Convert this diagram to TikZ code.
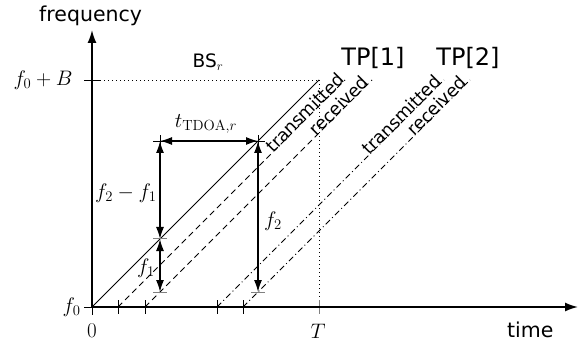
\RequirePackage{fix-cm}
\documentclass[tikz,border=0pt]{standalone}
\usepackage{fontspec}
\setsansfont{DejaVu Sans}
\usetikzlibrary{arrows.meta}
\begin{document}
\begin{tikzpicture}[x=1pt,y=-1pt,
  axis/.style={line width=1.6pt,-{Latex[length=13pt,width=9pt]}},
  meas/.style={line width=1.5pt,{Latex[length=12pt,width=8pt]}-{Latex[length=12pt,width=8pt]}},
  txline/.style={line width=0.8pt},
  dashline/.style={line width=0.8pt,dash pattern=on 6pt off 4pt},
  dotdash/.style={line width=0.8pt,dash pattern=on 6pt off 3pt on 1pt off 3pt},
  guide/.style={line width=0.6pt,dash pattern=on 1pt off 3pt},
  tick/.style={line width=0.7pt},
  graytick/.style={line width=1pt,gray},
  mathlbl/.style={font=\fontsize{21}{25}\selectfont},
  biglbl/.style={font=\sffamily\fontsize{24}{28}\selectfont},
  axlbl/.style={font=\sffamily\fontsize{20.5}{24}\selectfont, inner sep=0pt},
  linelbl/.style={font=\sffamily\fontsize{17.5}{21}\selectfont, sloped, anchor=base, inner sep=0pt}]
\useasboundingbox (0,0) rectangle (583,347);
% coordinates
\coordinate (O) at (92,307);
\coordinate (ytop) at (92,30);
\coordinate (xend) at (578,307);
\coordinate (fB) at (92,80);
\coordinate (TB) at (319,80);
\coordinate (T) at (319,307);
\coordinate (s0) at (92,307);  \coordinate (s1) at (319,80);
\coordinate (a0) at (118,307); \coordinate (a1) at (345,80);
\coordinate (b0) at (145,307); \coordinate (b1) at (372,80);
\coordinate (c0) at (217,307); \coordinate (c1) at (444,80);
\coordinate (d0) at (243,307); \coordinate (d1) at (470,80);
\coordinate (P1) at (160,141);
\coordinate (P2) at (258,141);
\coordinate (Q1) at (160,239);
\coordinate (R1) at (160,292);
\coordinate (R2) at (258,292);
% guides
\draw[guide] (fB) -- (TB);
\draw[guide] (TB) -- (T);
% ticks
\draw[tick] ([xshift=-8pt]fB) -- ([xshift=8pt]fB);
\draw[tick] ([xshift=-8pt]O) -- (O) -- ([yshift=-8pt]O);
\foreach \c in {a0,b0,c0,d0}{\draw[tick] ([yshift=7pt]\c) -- ([yshift=-7pt]\c);}
\draw[tick,gray] ([yshift=7pt]T) -- ([yshift=-7pt]T);
% axes
\draw[axis] (O) -- (ytop);
\draw[axis] (O) -- (xend);
% chirps
\draw[txline] (s0) -- (s1);
\draw[dashline] (a0) -- (a1);
\draw[dashline] (b0) -- (b1);
\draw[dotdash] (c0) -- (c1);
\draw[dotdash] (d0) -- (d1);
% line labels
\path (a0) -- (a1) node[linelbl, pos=0.84, yshift=-1pt] {transmitted};
\path (b0) -- (b1) node[linelbl, pos=0.87, yshift=-1pt] {received};
\path (c0) -- (c1) node[linelbl, pos=0.83, yshift=-1pt] {transmitted};
\path (d0) -- (d1) node[linelbl, pos=0.87, yshift=-1pt] {received};
% measurement arrows
\draw[meas] (P1) -- (Q1);
\draw[meas] (Q1) -- (R1);
\draw[meas] (P2) -- (R2);
\draw[meas] (P1) -- (P2);
\foreach \c in {P1,P2}{
  \draw[tick] ([xshift=-7pt]\c) -- ([xshift=7pt]\c);
  \draw[tick] ([yshift=-6pt]\c) -- ([yshift=6pt]\c);}
\foreach \c in {Q1,R1,R2}{\draw[graytick] ([xshift=-7pt]\c) -- ([xshift=7pt]\c);}
% labels
\node[mathlbl, anchor=east] (lf0) at (84,307) {$f_0$};
\node[mathlbl, anchor=east] (lfB) at (76,80) {$f_0+B$};
\node[mathlbl] (l0) at (92,331) {$0$};
\node[mathlbl] (lT) at (318,331) {$T$};
\node[mathlbl] (ltd) at (206,124) {$t_{\mathrm{TDOA},r}$};
\node[mathlbl, anchor=east] (lf21) at (160,193) {$f_2-f_1$};
\node[mathlbl] (lf1) at (146,268) {$f_1$};
\node[mathlbl] (lf2) at (273,221) {$f_2$};
\node[font=\sffamily\fontsize{18.5}{22}\selectfont] (lbs) at (208,62) {BS$_r$};
\node[biglbl] (ltp1) at (373,58) {TP[1]};
\node[biglbl] (ltp2) at (468,58) {TP[2]};
\node[axlbl, anchor=base west] (lfreq) at (39,22) {frequency};
\node[axlbl, anchor=base west] (ltime) at (507,337) {time};
\end{tikzpicture}
\end{document}
